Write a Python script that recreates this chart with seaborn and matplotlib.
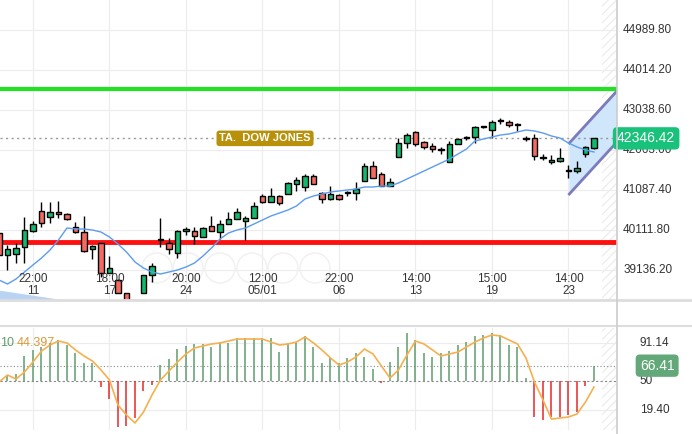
import numpy as np
import pandas as pd
import seaborn as sns
import matplotlib.pyplot as plt
import matplotlib.transforms as mtrans
from matplotlib.patches import Circle, Polygon

plt.rc('font', family='Liberation Sans')
plt.rc('hatch', color='#ebebeb', linewidth=0.8)

# candles (o, h, l, c)
opens = [40038, 39501, 39526, 39697, 40087, 40575, 40428, 40550, 40502, 40184,
         40062, 39648, 39794, 39063, 38892, 38575, 38404, 38575, 39014, 39867,
         39794, 39550, 40087, 40087, 39941, 40209, 40062, 40258, 40380, 40331,
         40404, 40941, 40794, 40941, 40989, 41233, 41160, 41428, 41014, 40867,
         40965, 41014, 41014, 41306, 41672, 41477, 41184, 41892, 42233, 42502,
         42258, 42160, 42062, 41770, 42209, 42355, 42380, 42623, 42550, 42770,
         42745, 42672, 42331, 42355, 41892, 41770, 41794, 41550, 41550, 41965, 42111]
highs = [40160, 39745, 39794, 40428, 40331, 40794, 40794, 40819, 40526, 40306,
         40453, 39745, 39794, 39477, 38916, 38575, 38404, 39014, 39306, 40404,
         39916, 40111, 40184, 40184, 40184, 40453, 40355, 40550, 40648, 40453,
         40794, 40989, 41136, 40965, 41282, 41404, 41477, 41477, 41038, 41184,
         40989, 41063, 41282, 41745, 41794, 41526, 41380, 42355, 42477, 42526,
         42282, 42233, 42136, 42282, 42355, 42404, 42648, 42648, 42794, 42843,
         42794, 42721, 42404, 42453, 41965, 41941, 42111, 41697, 41794, 42160, 42355]
lows = [39380, 39136, 39306, 39306, 40062, 40184, 40282, 40404, 40355, 40038,
        39575, 39404, 38965, 39063, 38575, 38282, 38160, 38575, 38843, 39697,
        39526, 39428, 39989, 39770, 39941, 40087, 39892, 40258, 40380, 39867,
        40404, 40770, 40794, 40721, 40989, 41063, 41063, 41233, 40770, 40843,
        40843, 40941, 40843, 41306, 41380, 41184, 41184, 41892, 42111, 42160,
        42087, 42014, 41965, 41770, 42209, 42306, 42233, 42599, 42355, 42697,
        42623, 42526, 42282, 41819, 41819, 41721, 41770, 41380, 41502, 41892, 42087]
closes = [39501, 39648, 39672, 40111, 40258, 40282, 40550, 40502, 40380, 40062,
          39599, 39721, 39063, 39184, 38575, 38282, 38160, 39014, 39233, 39892,
          39648, 40087, 40136, 39965, 40160, 40087, 40258, 40380, 40550, 40404,
          40697, 40794, 40941, 40770, 41258, 41331, 41428, 41233, 40867, 40989,
          40867, 41038, 41111, 41672, 41380, 41184, 41282, 42233, 42428, 42209,
          42136, 42087, 42087, 42209, 42331, 42380, 42623, 42648, 42745, 42794,
          42672, 42697, 42355, 41916, 41867, 41819, 41867, 41575, 41623, 42136, 42346.42]
ma = [38892, 38794, 38916, 39087, 39258, 39428, 39623, 39867, 40160, 40136,
      40136, 40111, 40062, 39941, 39770, 39575, 39331, 39184, 39087, 39038,
      39087, 39136, 39209, 39306, 39477, 39672, 39892, 40038, 40111, 40160,
      40258, 40355, 40453, 40526, 40599, 40697, 40867, 40941, 40989, 41038,
      41063, 41087, 41111, 41160, 41160, 41184, 41184, 41258, 41355, 41453,
      41550, 41648, 41745, 41843, 41965, 42087, 42282, 42331, 42380, 42428,
      42453, 42502, 42550, 42526, 42477, 42404, 42355, 42233, 42136, 42062, 42014]

# oscillator
osc = [58, 55, 57, 76.8, 83.2, 86.4, 90.7, 93.9, 88.5, 80, 69.3, 69.3, 43.6, 30.7, 0.8,
       1.9, 10.4, 39.3, 45.7, 67.1, 73.5, 84.2, 87.5, 89.6, 89.6, 86.4, 91.7, 90.7,
       96, 96, 96, 96, 96, 81, 90.7, 91.7, 98, 86.4, 69.3, 74.6, 69.3, 74.6, 80, 75.7,
       62.8, 47.9, 70.3, 86.4, 101, 93.9, 80, 75.7, 80, 82, 88.5, 91.7, 98, 99, 101,
       99, 88.5, 86.4, 53, 11.5, 8.3, 11.5, 11.5, 13.6, 16.8, 45, 66.41]
signal = [48.9, 56.4, 52.1, 59.6, 70.3, 82, 88.5, 92.8, 90.7, 83.2, 76.8, 71.4, 61.8,
          51.1, 24.3, 13.6, 5.1, 16.8, 35, 51.1, 60.7, 70.3, 78.9, 85.3, 87.5, 89.6,
          90.7, 92.8, 94.9, 94.9, 94.9, 94.9, 91.7, 88.5, 89.6, 91.7, 97.1, 90.7, 83.2,
          74.6, 67.1, 70.3, 75.7, 84.2, 78.9, 66, 53.2, 61.8, 77.8, 92.8, 89.6, 83.2,
          76.8, 78.9, 81, 86.4, 91.7, 96, 99.2, 98.2, 93.9, 89.6, 74.6, 48.9, 29.7,
          9.3, 10.4, 11.5, 14.7, 27.5, 43.6]

price_ticks = [44989.80, 44014.20, 43038.60, 42063.00, 41087.40, 40111.80, 39136.20]
osc_ticks = [91.14, 50, 19.40]
time_pos = [4, 13, 22, 31, 40, 49, 58, 67]
time_labels = ['22:00\n11', '18:00\n17', '20:00\n24', '12:00\n05/01',
               '22:00\n06', '14:00\n13', '15:00\n19', '14:00\n23']
resistance = 43550
support = 39819
last_price = 42346.42
chan_x = [67.1, 72.7]
chan_up = [42233, 43502]
chan_dn = [40989, 42258]

df = pd.DataFrame({'i': np.arange(len(opens)), 'o': opens, 'h': highs,
                   'l': lows, 'c': closes, 'ma': ma, 'osc': osc, 'sig': signal})

W, H = 692, 434
fig = plt.figure(figsize=(W / 100, H / 100), dpi=100)
ax = fig.add_axes([0, (H - 300) / H, 617 / W, 300 / H])
ax2 = fig.add_axes([0, (H - 430) / H, 617 / W, 102 / H])
xlim = (0.12, 0.12 + 617 / 8.5)

for a in (ax, ax2):
    a.set_xlim(*xlim)
    for s in a.spines.values():
        s.set_visible(False)
    a.set_xticks([])
    a.set_yticks([])
    for t in time_pos:
        a.axvline(t, color='#ececec', lw=0.8, zorder=0)
    a.axvspan(70.9, xlim[1], facecolor='none', edgecolor='#ebebeb', hatch='////', lw=0, zorder=0)

# main panel
ax.set_ylim(38404, 45721)
for p in price_ticks:
    ax.axhline(p, color='#ececec', lw=0.8, zorder=0)
    ax.text(1.01, p, f'{p:.2f}', transform=mtrans.blended_transform_factory(ax.transAxes, ax.transData),
            fontsize=8.5, color='#333333', va='center', ha='left', clip_on=False)

# nav buttons (faint)
for cx in [157, 188, 220, 252, 283, 315]:
    c = Circle((cx, H - 268), 15, transform=None, fill=False, ec='#f0f0f0', lw=1.0, zorder=0.5)
    ax.add_artist(c)

ax.fill_between([0.12, 7.2], [38624, 38404], 38404, color='#b9d3f5', zorder=1)

ax.add_patch(Polygon([[chan_x[0], chan_up[0]], [chan_x[1], chan_up[1]],
                      [chan_x[1], chan_dn[1]], [chan_x[0], chan_dn[0]]],
                     closed=True, facecolor='#cfe6fb', edgecolor='none', zorder=1))
ax.plot(chan_x, chan_up, color='#7b7bbd', lw=2, zorder=2)
ax.plot(chan_x, chan_dn, color='#7b7bbd', lw=2, zorder=2)

ax.axhline(resistance, color='#22e022', lw=3, zorder=3)
ax.axhline(support, color='#ff1010', lw=3.5, zorder=3)
ax.axhline(last_price, color='#999999', lw=1, ls=(0, (1.5, 2.5)), zorder=1)

up = df['c'] >= df['o']
ax.vlines(df['i'], df['l'], df['h'], color='black', lw=1, zorder=4)
ax.bar(df['i'], (df['c'] - df['o']).abs().clip(lower=25), bottom=df[['o', 'c']].min(axis=1),
       width=0.6, color=np.where(up, '#14b86c', '#f46a60'), edgecolor='black', lw=1, zorder=5)
sns.lineplot(data=df, x='i', y='ma', ax=ax, color='#5b9cf0', lw=1, zorder=6)
ax.set_xlabel('')
ax.set_ylabel('')

ax.text(31.3, last_price, 'TA.  DOW JONES', fontsize=8, fontweight='bold', color='white',
        ha='center', va='center', zorder=7,
        bbox=dict(boxstyle='round,pad=0.25', fc='#b8900a', ec='none'))
ax.text(1.0, last_price, '42346.42', transform=mtrans.blended_transform_factory(ax.transAxes, ax.transData),
        fontsize=10, color='white', ha='left', va='center', clip_on=False, zorder=8,
        bbox=dict(boxstyle='round,pad=0.3', fc='#19c27a', ec='none'))

for t, lab in zip(time_pos, time_labels):
    ax.text(t, 0.05, lab, transform=mtrans.blended_transform_factory(ax.transData, ax.transAxes),
            fontsize=8.5, color='#333333', ha='center', va='center', linespacing=0.95, zorder=7)

# oscillator panel
ax2.set_ylim(-2.4, 106.7)
for p in [91.14, 19.40]:
    ax2.axhline(p, color='#ececec', lw=0.8, zorder=0)
ax2.axhline(50, color='#888888', lw=0.8, ls=(0, (2, 2)), zorder=1)
ax2.axhline(66.41, color='#888888', lw=0.8, ls=(0, (1, 2)), zorder=1)
ax2.vlines(df['i'], 50, df['osc'], colors=np.where(df['osc'] >= 50, '#5f9e6e', '#e8282b'), lw=1.1, zorder=2)
sns.lineplot(data=df, x='i', y='sig', ax=ax2, color='#f5b04f', lw=1.2, zorder=3)
ax2.set_xlabel('')
ax2.set_ylabel('')
bt = mtrans.blended_transform_factory(ax2.transAxes, ax2.transData)
for p in osc_ticks:
    ax2.text(1.037, p, f'{p:g}' if p == 50 else f'{p:.2f}', transform=bt, fontsize=8.5,
             color='#333333', va='center', clip_on=False)
ax2.text(1.037, 66.41, '66.41', transform=bt, fontsize=10, color='white', va='center', clip_on=False,
         bbox=dict(boxstyle='round,pad=0.3', fc='#62a878', ec='none'))
ax2.text(0.0, 0.85, '10', transform=ax2.transAxes, fontsize=9, color='#5f9e6e', va='center')
ax2.text(0.027, 0.85, '44.397', transform=ax2.transAxes, fontsize=9, color='#d99a3a', va='center')

# panel separators
fig.add_artist(plt.Line2D([0, 1], [(H - 300) / H] * 2, color='#dddddd', lw=2, transform=fig.transFigure))
fig.add_artist(plt.Line2D([0, 1], [(H - 326) / H] * 2, color='#dddddd', lw=1.5, transform=fig.transFigure))
fig.add_artist(plt.Line2D([617 / W] * 2, [0, 1], color='#cccccc', lw=1.2, transform=fig.transFigure))

fig.savefig('out.png', dpi=100)
